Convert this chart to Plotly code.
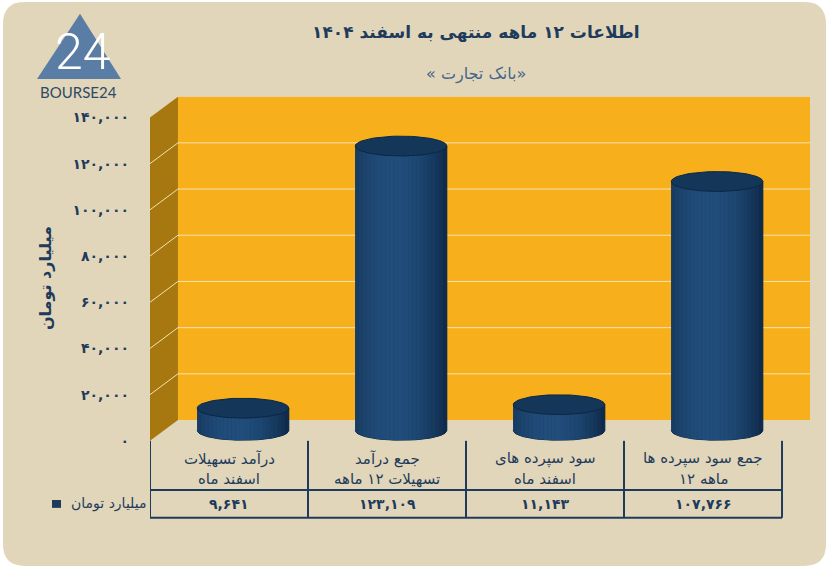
import numpy as np
import plotly.graph_objects as go

W, H = 829, 578

# ---- data ----
cat_line1 = ["درآمد تسهیلات", "جمع درآمد", "سود سپرده های", "جمع سود سپرده ها"]
cat_line2 = ["اسفند ماه", "تسهیلات ۱۲ ماهه", "اسفند ماه", "۱۲ ماهه"]
values = [9641, 123109, 11143, 107766]
value_labels = ["۹,۶۴۱", "۱۲۳,۱۰۹", "۱۱,۱۴۳", "۱۰۷,۷۶۶"]
tick_vals = [0, 20000, 40000, 60000, 80000, 100000, 120000, 140000]
tick_labels = ["۰", "۲۰,۰۰۰", "۴۰,۰۰۰", "۶۰,۰۰۰", "۸۰,۰۰۰", "۱۰۰,۰۰۰", "۱۲۰,۰۰۰", "۱۴۰,۰۰۰"]
series_name = "میلیارد تومان"
title = "اطلاعات ۱۲ ماهه منتهی به اسفند ۱۴۰۴"
subtitle = "\u200f«بانک تجارت »\u200f"

# ---- styling ----
BG = "#e1d6ba"
NAVY = "#1f3b5c"
ORANGE = "#f7b01c"
SIDE = "#a6780f"
GRID = "#f5e2ae"
FONT = "DejaVu Sans"

YMAX = 140000
DX = 0.177      # depth offset in category units
DY = 9000       # depth offset in value units
RX = 0.29
RY = 4300


def px(x):
    return x / W


def py(y):
    return 1 - y / H


fig = go.Figure()

# cylinders
dark = np.array([11, 36, 64])
light = np.array([34, 78, 124])
for i, v in enumerate(values):
    cx = i + DX / 2
    base = DY / 2
    top = v + DY / 2
    # full body underneath the shading strips
    u = np.linspace(-1, 1, 60)
    bx = cx + RX * u
    by = base - RY * np.sqrt(1 - u ** 2)
    fig.add_trace(go.Scatter(
        x=list(bx) + [cx + RX, cx - RX], y=list(by) + [top, top],
        fill="toself", fillcolor="#17406b", mode="lines",
        line=dict(color="#0e2a48", width=1),
        hoverinfo="skip", showlegend=False))
    n = 24
    edges = np.linspace(-1, 1, n + 1)
    for k in range(n):
        uu = np.linspace(edges[k], edges[k + 1], 5)
        um = (edges[k] + edges[k + 1]) / 2
        t = (um + 1) / 2
        b = max(0.0, 1 - ((t - 0.42) / 0.62) ** 2)
        c = (dark + (light - dark) * b).astype(int)
        col = "rgb(%d,%d,%d)" % tuple(c)
        xs = cx + RX * uu
        ybot = base - RY * np.sqrt(np.clip(1 - uu ** 2, 0, 1))
        fig.add_trace(go.Scatter(
            x=list(xs) + list(xs[::-1]),
            y=list(ybot) + [top] * len(xs),
            fill="toself", fillcolor=col, mode="lines",
            line=dict(width=0),
            hoverinfo="skip", showlegend=False))
    th = np.linspace(0, 2 * np.pi, 90)
    fig.add_trace(go.Scatter(
        x=cx + RX * np.cos(th), y=top + RY * np.sin(th),
        fill="toself", fillcolor="#133659", mode="lines",
        line=dict(color="#0c2745", width=1),
        hoverinfo="skip", showlegend=False))

shapes = []
# card background with rounded corners
x0, x1, y0, y1 = px(3), px(826), py(574), py(2)
rx, ry = px(22), 22 / H
shapes.append(dict(
    type="path", xref="paper", yref="paper", layer="below",
    path=(f"M {x0+rx},{y0} L {x1-rx},{y0} Q {x1},{y0} {x1},{y0+ry} "
          f"L {x1},{y1-ry} Q {x1},{y1} {x1-rx},{y1} L {x0+rx},{y1} "
          f"Q {x0},{y1} {x0},{y1-ry} L {x0},{y0+ry} Q {x0},{y0} {x0+rx},{y0} Z"),
    fillcolor=BG, line=dict(width=0)))

# side wall and back wall
shapes.append(dict(
    type="path", xref="x", yref="y", layer="below",
    path=f"M -0.5,0 L -0.5,{YMAX} L {-0.5+DX},{YMAX+DY} L {-0.5+DX},{DY} Z",
    fillcolor=SIDE, line=dict(width=0)))
shapes.append(dict(
    type="rect", xref="x", yref="y", layer="below",
    x0=-0.5 + DX, x1=3.5 + DX, y0=DY, y1=YMAX + DY,
    fillcolor=ORANGE, line=dict(width=0)))
for v in tick_vals[1:-1]:
    shapes.append(dict(
        type="path", xref="x", yref="y", layer="below",
        path=f"M -0.5,{v} L {-0.5+DX},{v+DY} L {3.5+DX},{v+DY}",
        line=dict(color=GRID, width=1)))

# data table
t_top, t_mid, t_bot = py(447), py(497), py(525)
for b in [-0.5, 0.5, 1.5, 2.5, 3.5]:
    shapes.append(dict(type="line", xref="x", yref="paper",
                       x0=b, x1=b, y0=t_bot, y1=t_top,
                       line=dict(color=NAVY, width=2)))
left_x = -0.5 - (150 - 47) / 158
for yy in [t_mid, t_bot]:
    shapes.append(dict(type="line", xref="x", yref="paper",
                       x0=left_x, x1=3.5, y0=yy, y1=yy,
                       line=dict(color=NAVY, width=2)))
shapes.append(dict(type="line", xref="x", yref="paper",
                   x0=left_x, x1=left_x, y0=t_bot, y1=t_mid,
                   line=dict(color=NAVY, width=2)))
# legend key
shapes.append(dict(type="rect", xref="paper", yref="paper",
                   x0=px(52), x1=px(61), y0=py(515), y1=py(507),
                   fillcolor=NAVY, line=dict(width=0)))

# logo triangle
shapes.append(dict(type="path", xref="paper", yref="paper",
                   path=f"M {px(80)},{py(14)} L {px(121)},{py(80)} L {px(37)},{py(80)} Z",
                   fillcolor="#5a7da6", line=dict(width=0)))


def note(x, y, text, size, color=NAVY, weight="normal", family=FONT, **kw):
    d = dict(x=x, y=y, xref="paper", yref="paper", text=text, showarrow=False,
             xanchor="center", yanchor="middle",
             font=dict(family=family, size=size, color=color, weight=weight))
    d.update(kw)
    return d


annotations = []
for i in range(4):
    annotations.append(note(i, py(465), cat_line1[i], 15, xref="x"))
    annotations.append(note(i, py(486), cat_line2[i], 15, xref="x"))
    annotations.append(note(i, py(511), value_labels[i], 14, weight="bold", xref="x"))
annotations.append(note(px(148), py(511), series_name, 14, xanchor="right"))
annotations.append(note(px(476), py(33), title, 17, weight="bold"))
annotations.append(note(px(476), py(75), subtitle, 16, color="#46658a"))
annotations.append(note(px(45), py(282), series_name, 16, weight="bold", textangle=-90))
annotations.append(note(px(82), py(53), "24", 50, color="white", weight=300, family="Roboto"))
annotations.append(note(px(78), py(93), "BOURSE24", 15, color="#2e4966", family="Lato"))

fig.update_layout(
    width=W, height=H,
    margin=dict(l=0, r=0, t=0, b=0),
    paper_bgcolor="white", plot_bgcolor="rgba(0,0,0,0)",
    showlegend=False,
    shapes=shapes, annotations=annotations,
    xaxis=dict(domain=[px(150), px(810)], range=[-0.5, 3.5 + DX],
               showgrid=False, zeroline=False, showticklabels=False, fixedrange=True),
    yaxis=dict(domain=[py(447), py(98)], range=[0, YMAX + DY],
               tickvals=tick_vals, ticktext=tick_labels, ticklabelstandoff=20,
               tickfont=dict(family=FONT, size=14, color=NAVY, weight="bold"),
               showgrid=False, zeroline=False, fixedrange=True),
)

fig.write_html(
    "out.html",
    config={"displayModeBar": False},
    post_script=("document.body.style.margin='0';"
                 "document.body.style.overflow='hidden';"
                 "document.documentElement.style.overflow='hidden';"),
)
